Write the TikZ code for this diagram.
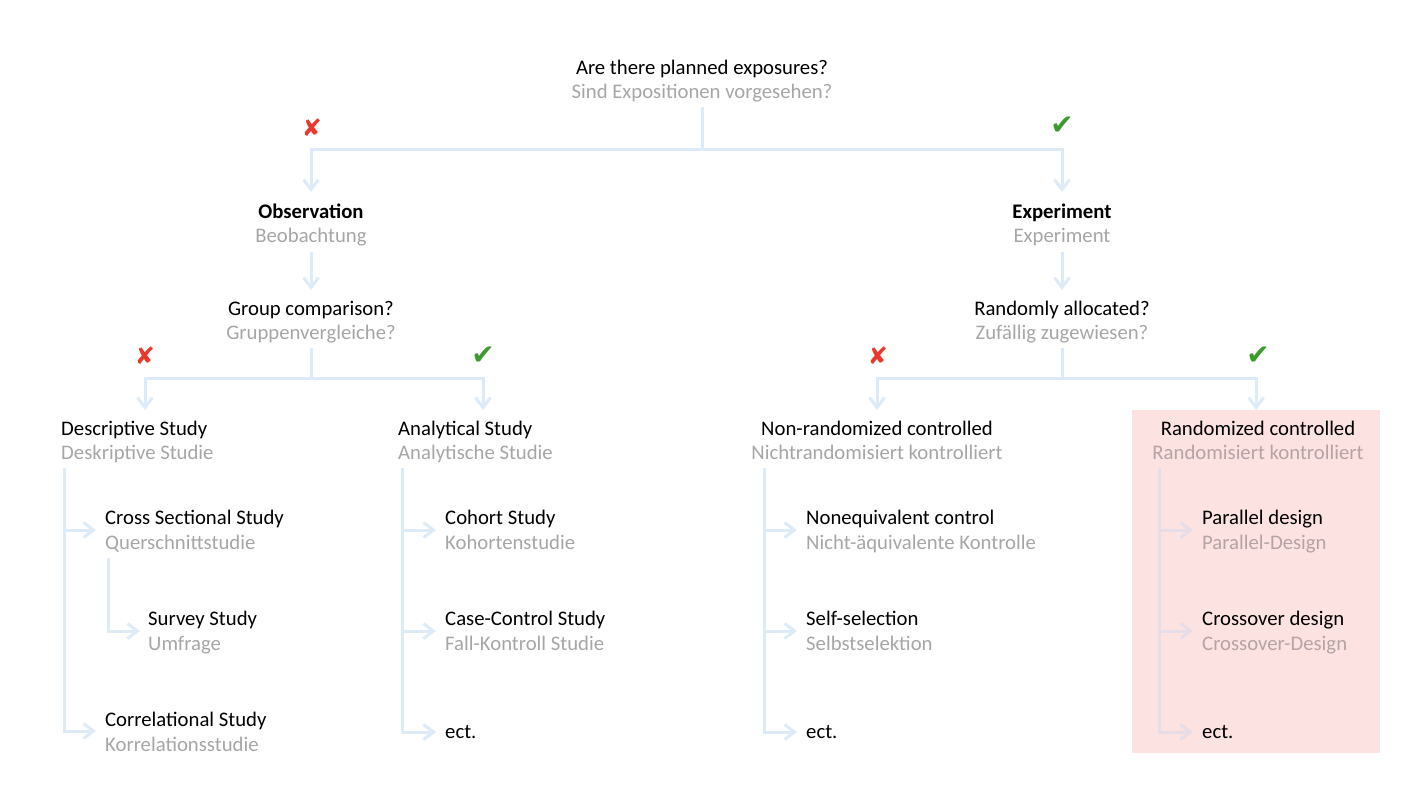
\documentclass[tikz,border=0pt]{standalone}
\usepackage{fontspec}
\setmainfont{Carlito}
\newfontfamily\symfont{DejaVu Sans}
\usetikzlibrary{arrows.meta,calc}
\definecolor{lineblue}{HTML}{DDEAF7}
\definecolor{linepink}{HTML}{E6DDE8}
\definecolor{degray}{HTML}{A6A6A6}
\definecolor{degraypink}{HTML}{B5A3A5}
\definecolor{boxpink}{HTML}{FDE2E2}
\definecolor{xred}{HTML}{E8372B}
\definecolor{okgreen}{HTML}{3C9A2E}
\begin{document}
\begin{tikzpicture}[x=1bp,y=-1bp,
  en/.style={inner sep=0pt, anchor=base, font=\fontsize{20.8}{24}\selectfont, text=black},
  enb/.style={en, font=\fontsize{20.8}{24}\selectfont\bfseries},
  de/.style={en, text=degray},
  enl/.style={en, anchor=base west},
  del/.style={de, anchor=base west},
  depl/.style={del, text=degraypink},
  ln/.style={draw=lineblue, line width=3bp},
  arr/.style={ln, -{Straight Barb[length=10bp,width=15bp]}},
  lnp/.style={ln, draw=linepink},
  arrp/.style={arr, draw=linepink},
  nomark/.style={inner sep=0pt, text=xred, font=\symfont\fontsize{24}{24}\selectfont},
  okmark/.style={inner sep=0pt, text=okgreen, font=\symfont\fontsize{28}{28}\selectfont},
]
\useasboundingbox (0,0) rectangle (1418,790);

% pink highlight box
\node[fill=boxpink, draw=none, minimum width=248bp, minimum height=343bp, inner sep=0pt, anchor=north west] (rbox) at (1132,410) {};

% top question
\node[en] (q1e) at (702,74) {Are there planned exposures?};
\node[de] (q1d) at (702,98) {Sind Expositionen vorgesehen?};

% level 2
\node[enb] (obse) at (311,218) {Observation};
\node[de] (obsd) at (311,242) {Beobachtung};
\node[enb] (expe) at (1062,218) {Experiment};
\node[de] (expd) at (1062,242) {Experiment};

% level 3 questions
\node[en] (grpe) at (311,315) {Group comparison?};
\node[de] (grpd) at (311,339) {Gruppenvergleiche?};
\node[en] (rnde) at (1062,315) {Randomly allocated?};
\node[de] (rndd) at (1062,339) {Zufällig zugewiesen?};

% level 4
\node[enl] (dese) at (61,435) {Descriptive Study};
\node[del] (desd) at (61,459) {Deskriptive Studie};
\node[enl] (anae) at (398,435) {Analytical Study};
\node[del] (anad) at (398,459) {Analytische Studie};
\node[en] (nrce) at (877,435) {Non-randomized controlled};
\node[de] (nrcd) at (877,459) {Nichtrandomisiert kontrolliert};
\node[en] (rcte) at (1258,435) {Randomized controlled};
\node[de, text=degraypink] (rctd) at (1258,459) {Randomisiert kontrolliert};

% descriptive list
\node[enl] (crse) at (105,524) {Cross Sectional Study};
\node[del] (crsd) at (105,549) {Querschnittstudie};
\node[enl] (srve) at (148,625) {Survey Study};
\node[del] (srvd) at (148,650) {Umfrage};
\node[enl] (core) at (105,726) {Correlational Study};
\node[del] (cord) at (105,751) {Korrelationsstudie};

% analytical list
\node[enl] (cohe) at (445,524) {Cohort Study};
\node[del] (cohd) at (445,549) {Kohortenstudie};
\node[enl] (ccse) at (445,625) {Case-Control Study};
\node[del] (ccsd) at (445,650) {Fall-Kontroll Studie};
\node[enl] (aect) at (445,738) {ect.};

% non-randomized list
\node[enl] (noqe) at (806,524) {Nonequivalent control};
\node[del] (noqd) at (806,549) {Nicht-äquivalente Kontrolle};
\node[enl] (slfe) at (806,625) {Self-selection};
\node[del] (slfd) at (806,650) {Selbstselektion};
\node[enl] (nect) at (806,738) {ect.};

% randomized list
\node[enl] (pare) at (1202,524) {Parallel design};
\node[depl] (pard) at (1202,549) {Parallel-Design};
\node[enl] (crve) at (1202,625) {Crossover design};
\node[depl] (crvd) at (1202,650) {Crossover-Design};
\node[enl] (rect) at (1202,738) {ect.};

% marks
\node[nomark] (m1) at (312,128) {✘};
\node[okmark] (m2) at (1062,126) {✔};
\node[nomark] (m3) at (145,356) {✘};
\node[okmark] (m4) at (483,356) {✔};
\node[nomark] (m5) at (878,356) {✘};
\node[okmark] (m6) at (1258,356) {✔};

% ---- connectors: top split
\coordinate (j1) at ($(q1d.base)+(0,51)$);
\draw[ln] ($(q1d.base)+(0,9)$) -- (j1);
\draw[arr] (j1) -| ($(obse.base)+(0,-26)$);
\draw[arr] (j1) -| ($(expe.base)+(0,-26)$);

% level 2 to questions
\draw[arr] ($(obsd.base)+(0,10)$) -- ($(grpe.base)+(0,-25)$);
\draw[arr] ($(expd.base)+(0,10)$) -- ($(rnde.base)+(0,-25)$);

% group comparison split
\coordinate (j2) at ($(grpd.base)+(0,39)$);
\draw[ln] ($(grpd.base)+(0,9)$) -- (j2);
\coordinate (tdes) at ($(dese.base west)+(84,-25)$);
\coordinate (tana) at ($(anae.base west)+(85,-25)$);
\draw[arr] (j2) -| (tdes);
\draw[arr] (j2) -| (tana);

% randomly allocated split
\coordinate (j3) at ($(rndd.base)+(0,39)$);
\draw[ln] ($(rndd.base)+(0,9)$) -- (j3);
\draw[arr] (j3) -| ($(nrce.base)+(0,-25)$);
\draw[arr] (j3) -| (rbox.north);

% descriptive list
\coordinate (desT) at ($(desd.base west)+(3,9)$);
\coordinate (crsT) at ($(crse.base west)+(-9,6)$);
\coordinate (corT) at ($(core.base west)+(-9,5)$);
\draw[arr] (desT) |- (corT);
\draw[arr] (desT |- crsT) -- (crsT);
\coordinate (crsS) at ($(crsd.base west)+(3,9)$);
\coordinate (srvT) at ($(srve.base west)+(-8,6)$);
\draw[arr] (crsS) |- (srvT);

% analytical list
\coordinate (anaT) at ($(anad.base west)+(4,9)$);
\coordinate (cohT) at ($(cohe.base west)+(-9,6)$);
\coordinate (ccsT) at ($(ccse.base west)+(-9,6)$);
\coordinate (aecT) at ($(aect.base west)+(-9,-6)$);
\draw[arr] (anaT) |- (aecT);
\draw[arr] (anaT |- cohT) -- (cohT);
\draw[arr] (anaT |- ccsT) -- (ccsT);

% non-randomized list
\coordinate (nrcT) at ($(nrcd.base west)+(13,9)$);
\coordinate (noqT) at ($(noqe.base west)+(-9,6)$);
\coordinate (slfT) at ($(slfe.base west)+(-9,6)$);
\coordinate (necT) at ($(nect.base west)+(-9,-6)$);
\draw[arr] (nrcT) |- (necT);
\draw[arr] (nrcT |- noqT) -- (noqT);
\draw[arr] (nrcT |- slfT) -- (slfT);

% randomized list
\coordinate (rctT) at ($(rctd.base west)+(7,9)$);
\coordinate (parT) at ($(pare.base west)+(-9,6)$);
\coordinate (crvT) at ($(crve.base west)+(-9,6)$);
\coordinate (recT) at ($(rect.base west)+(-9,-6)$);
\draw[arrp] (rctT) |- (recT);
\draw[arrp] (rctT |- parT) -- (parT);
\draw[arrp] (rctT |- crvT) -- (crvT);
\end{tikzpicture}
\end{document}
